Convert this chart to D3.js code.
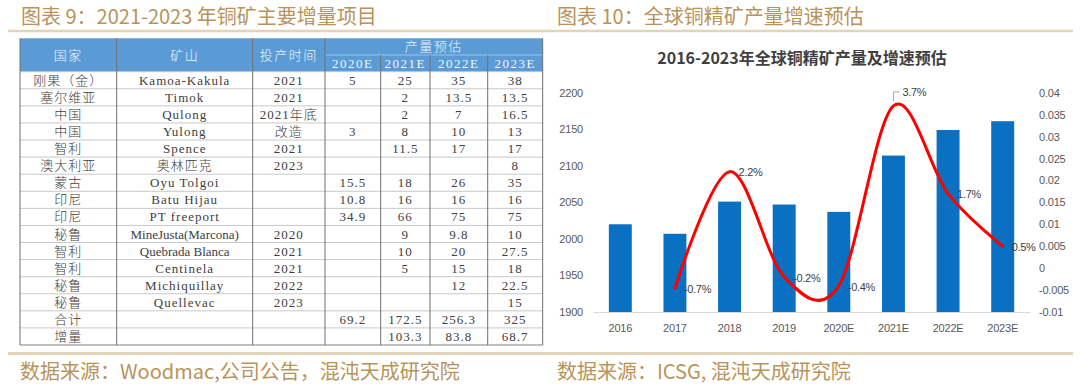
<!DOCTYPE html>
<html>
<head>
<meta charset="utf-8">
<script src="https://cdn.jsdelivr.net/npm/d3@7"></script>
<style>
  body { margin: 0; background: #fff; }
  svg { display: block; }
</style>
</head>
<body>
<svg id="page" width="1080" height="386"></svg>
<script>
// table data (figure 9)
var countries = ["刚果（金）", "塞尔维亚", "中国", "中国", "智利", "澳大利亚", "蒙古", "印尼", "印尼", "秘鲁", "智利", "智利", "秘鲁", "秘鲁", "合计", "增量"];
var mines = ["Kamoa-Kakula", "Timok", "Qulong", "Yulong", "Spence", "奥林匹克", "Oyu Tolgoi", "Batu Hijau", "PT freeport", "MineJusta(Marcona)", "Quebrada Blanca", "Centinela", "Michiquillay", "Quellevac", "", ""];
var startTime = ["2021", "2021", "2021年底", "改造", "2021", "2023", "", "", "", "2020", "2021", "2021", "2022", "2023", "", ""];
var est2020 = [5, null, null, 3, null, null, 15.5, 10.8, 34.9, null, null, null, null, null, 69.2, null];
var est2021 = [25, 2, 2, 8, 11.5, null, 18, 16, 66, 9, 10, 5, null, null, 172.5, 103.3];
var est2022 = [35, 13.5, 7, 10, 17, null, 26, 16, 75, 9.8, 20, 15, 12, null, 256.3, 83.8];
var est2023 = [38, 13.5, 16.5, 13, 17, 8, 35, 16, 75, 10, 27.5, 18, 22.5, 15, 325, 68.7];
var yearHeads = ["2020E", "2021E", "2022E", "2023E"];

// chart data (figure 10)
var years = ["2016", "2017", "2018", "2019", "2020E", "2021E", "2022E", "2023E"];
var output = [2020, 2007, 2051, 2047, 2037, 2114, 2149, 2161];
var growth = [null, -0.0046, 0.022, -0.002, -0.004, 0.037, 0.017, 0.005];
var growthLabels = ["", "-0.7%", "2.2%", "-0.2%", "-0.4%", "3.7%", "1.7%", "0.5%"];
var leftTicks = [1900, 1950, 2000, 2050, 2100, 2150, 2200];
var rightTicks = [-0.01, -0.005, 0, 0.005, 0.01, 0.015, 0.02, 0.025, 0.03, 0.035, 0.04];

var svg = d3.select("#page");
var tan = "#b8935a";
var cjk = "'Noto Sans CJK SC', sans-serif";

// page titles, rules and sources
svg.append("line").attr("x1", 8).attr("x2", 1073).attr("y1", 31).attr("y2", 31)
	.attr("stroke", "#e2d4b6").attr("stroke-width", 2.5);
svg.append("line").attr("x1", 8).attr("x2", 1073).attr("y1", 353.5).attr("y2", 353.5)
	.attr("stroke", "#e2d4b6").attr("stroke-width", 3);

var heads = [
	{t: "图表 9：2021-2023 年铜矿主要增量项目", x: 21, y: 17},
	{t: "图表 10：全球铜精矿产量增速预估", x: 557, y: 17},
	{t: "数据来源：Woodmac,公司公告，混沌天成研究院", x: 20, y: 372},
	{t: "数据来源：ICSG, 混沌天成研究院", x: 557, y: 372}
];
svg.selectAll("text.head").data(heads).enter().append("text")
	.attr("class", "head")
	.attr("x", function(d) { return d.x; })
	.attr("y", function(d) { return d.y; })
	.attr("dy", "0.35em")
	.attr("fill", tan)
	.style("font-family", cjk)
	.style("font-size", "20px")
	.text(function(d) { return d.t; });

// ---------- table ----------
var colX = [20, 116.7, 252.7, 325, 380.7, 430, 487.7, 542.7];
var headTop = 38.3, headMid = 55, headBot = 71.7;
var rowH = (345 - headBot) / countries.length;
var tbl = svg.append("g");

tbl.append("rect").attr("x", colX[0]).attr("y", headTop)
	.attr("width", colX[7] - colX[0]).attr("height", headBot - headTop)
	.attr("fill", "#5b9bd5");

var rows = countries.map(function(c, i) {
	return [c, mines[i], startTime[i], est2020[i], est2021[i], est2022[i], est2023[i]];
});

// horizontal rules
var hLines = d3.range(countries.length + 1).map(function(i) { return headBot + i * rowH; });
tbl.selectAll("line.h").data(hLines).enter().append("line")
	.attr("x1", colX[0]).attr("x2", colX[7])
	.attr("y1", function(d) { return d; }).attr("y2", function(d) { return d; })
	.attr("stroke", function(d, i) { return i == countries.length ? "#7f7f7f" : "#c8c8c8"; })
	.attr("stroke-width", 1);
tbl.append("line").attr("x1", colX[3]).attr("x2", colX[7]).attr("y1", headMid).attr("y2", headMid)
	.attr("stroke", "#9dc3e6").attr("stroke-width", 1);

// vertical rules
tbl.selectAll("line.v").data(colX).enter().append("line")
	.attr("x1", function(d) { return d; }).attr("x2", function(d) { return d; })
	.attr("y1", function(d, i) { return (i > 3 && i < 7) ? headMid : headTop; })
	.attr("y2", headBot + countries.length * rowH)
	.attr("stroke", "#6f6f6f").attr("stroke-width", 1);

// header text
var headCells = [
	{t: "国家", c: 0, y: (headTop + headBot) / 2, span: 1},
	{t: "矿山", c: 1, y: (headTop + headBot) / 2, span: 1},
	{t: "投产时间", c: 2, y: (headTop + headBot) / 2, span: 1},
	{t: "产量预估", c: 3, y: (headTop + headMid) / 2, span: 4}
].concat(yearHeads.map(function(h, i) { return {t: h, c: 3 + i, y: (headMid + headBot) / 2, span: 1}; }));

tbl.selectAll("text.hd").data(headCells).enter().append("text")
	.attr("x", function(d) { return (colX[d.c] + colX[d.c + d.span]) / 2; })
	.attr("y", function(d) { return d.y; })
	.attr("dy", "0.35em")
	.attr("text-anchor", "middle")
	.attr("fill", "#f2f6fb")
	.style("font-family", "'Liberation Serif', 'Noto Sans CJK SC', serif")
	.style("font-size", "13px")
	.style("font-weight", "300")
	.style("letter-spacing", "1.5px")
	.text(function(d) { return d.t; });

// body text
var cells = [];
rows.forEach(function(r, i) {
	r.forEach(function(v, j) {
		if (v === null || v === "") return;
		cells.push({t: v, c: j, r: i});
	});
});
tbl.selectAll("text.cell").data(cells).enter().append("text")
	.attr("x", function(d) { return (colX[d.c] + colX[d.c + 1]) / 2; })
	.attr("y", function(d) { return headBot + (d.r + 0.5) * rowH; })
	.attr("dy", "0.35em")
	.attr("text-anchor", "middle")
	.attr("fill", "#404040")
	.style("font-family", "'Liberation Serif', 'Noto Sans CJK SC', serif")
	.style("font-size", "13px")
	.style("font-weight", "300")
	.style("letter-spacing", function(d) { return d.c == 1 && d.t.length > 14 ? "0px" : "1px"; })
	.text(function(d) { return d.t; });

// ---------- chart ----------
var plotL = 593, plotR = 1030, plotT = 92.7, plotB = 312;
var narrow = "'Liberation Sans Narrow', 'Liberation Sans', Arial, sans-serif";

svg.append("text")
	.attr("x", 802).attr("y", 58).attr("dy", "0.35em")
	.attr("text-anchor", "middle")
	.attr("fill", "#404040")
	.style("font-family", cjk)
	.style("font-size", "16px")
	.style("font-weight", "bold")
	.text("2016-2023年全球铜精矿产量及增速预估");

var x = d3.scaleBand().domain(years).range([plotL, plotR]).paddingInner(0.58).paddingOuter(0.29);
var yL = d3.scaleLinear().domain([1900, 2200]).range([plotB, plotT]);
var yR = d3.scaleLinear().domain([-0.01, 0.04]).range([plotB, plotT]);

var chart = svg.append("g");

chart.selectAll("rect.bar").data(output).enter().append("rect")
	.attr("class", "bar")
	.attr("x", function(d, i) { return x(years[i]); })
	.attr("y", function(d) { return yL(d); })
	.attr("width", x.bandwidth())
	.attr("height", function(d) { return yL(1900) - yL(d); })
	.attr("fill", "#0a70c2");

var gx = chart.append("g").attr("transform", "translate(0," + plotB + ")")
	.call(d3.axisBottom(x).tickSize(0).tickPadding(12));
gx.select(".domain").attr("stroke", "#d9d9d9");

var gl = chart.append("g").attr("transform", "translate(" + (plotL - 10) + ",0)")
	.call(d3.axisLeft(yL).tickValues(leftTicks).tickSize(0).tickPadding(0).tickFormat(d3.format("d")));
var gr = chart.append("g").attr("transform", "translate(" + (plotR + 9) + ",0)")
	.call(d3.axisRight(yR).tickValues(rightTicks).tickSize(0).tickPadding(0)
		.tickFormat(function(d) { return String(+d.toFixed(3)); }));
gl.select(".domain").remove();
gr.select(".domain").remove();

chart.selectAll(".tick text")
	.attr("fill", "#595959")
	.style("font-family", narrow)
	.style("font-size", "11px")
	.style("letter-spacing", "-0.2px");

// growth line
var pts = growth.map(function(g, i) { return {year: years[i], g: g, label: growthLabels[i]}; })
	.filter(function(d) { return d.g !== null; });
var cx = function(d) { return x(d.year) + x.bandwidth() / 2; };

var line = d3.line()
	.x(cx)
	.y(function(d) { return yR(d.g); })
	.curve(d3.curveCardinal.tension(0));

chart.append("path").datum(pts)
	.attr("d", line)
	.attr("fill", "none")
	.attr("stroke", "#ff0000")
	.attr("stroke-width", 3)
	.attr("stroke-linecap", "round");

// 3.7% sits above the peak with a small leader
var peak = pts.filter(function(d) { return d.label == "3.7%"; })[0];
chart.append("path")
	.attr("d", "M" + cx(peak) + "," + (yR(peak.g) - 5) + "V" + (yR(peak.g) - 14) + "h6")
	.attr("fill", "none").attr("stroke", "#a6a6a6").attr("stroke-width", 1);

chart.selectAll("text.lbl").data(pts).enter().append("text")
	.attr("class", "lbl")
	.attr("x", function(d) { return d === peak ? cx(d) + 9 : cx(d) + 9; })
	.attr("y", function(d) { return d === peak ? yR(d.g) - 14 : yR(d.g) + 1; })
	.attr("dy", "0.35em")
	.attr("fill", "#404040")
	.style("font-family", narrow)
	.style("font-size", "11px")
	.style("letter-spacing", "-0.3px")
	.text(function(d) { return d.label; });
</script>
</body>
</html>
